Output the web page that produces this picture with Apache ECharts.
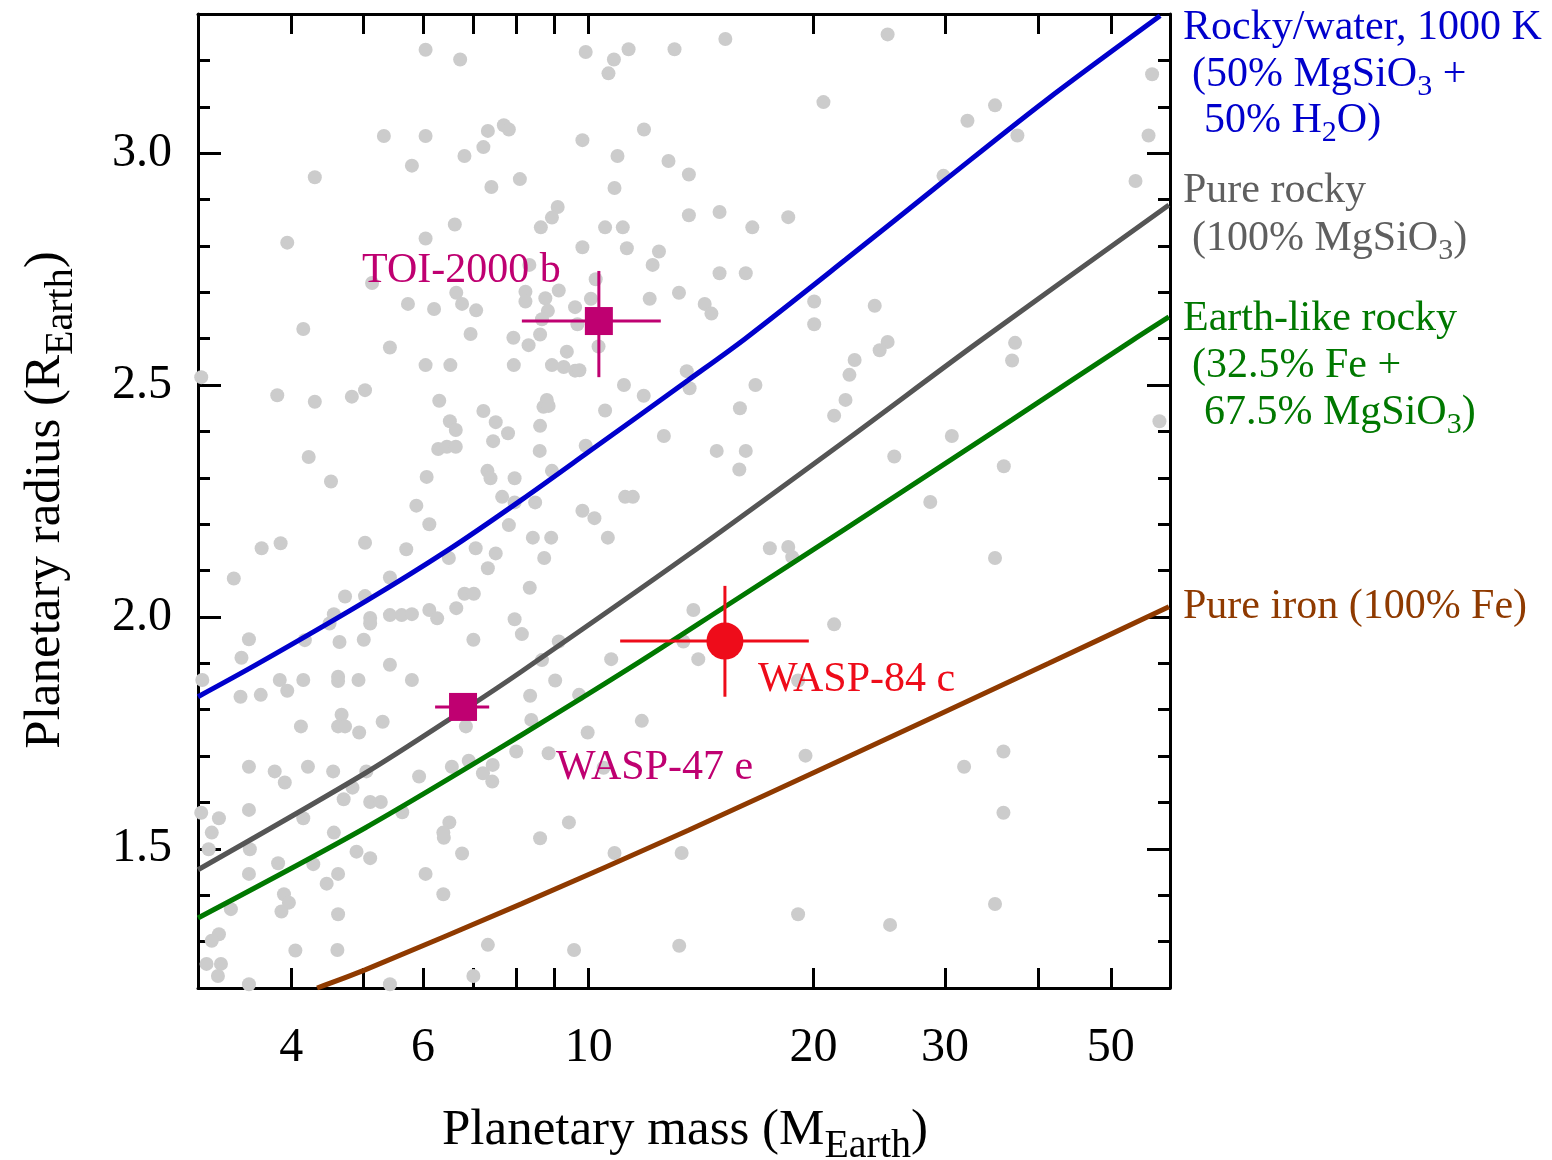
<!DOCTYPE html>
<html>
<head>
<meta charset="utf-8">
<title>Mass-radius diagram</title>
<script src="https://cdn.jsdelivr.net/npm/echarts@6.0.0/dist/echarts.min.js"></script>
<style>
  html, body { margin: 0; padding: 0; background: #fff; }
  #main { width: 1552px; height: 1160px; }
</style>
</head>
<body>
<div id="main"></div>
<script>
// axis ticks
var massTicks = [4, 5, 6, 7, 8, 9, 10, 20, 30, 40, 50];
var massLabels = [4, 6, 10, 20, 30, 50];
var radiusMajor = [1.5, 2.0, 2.5, 3.0];
var radiusMinor = [1.3, 1.4, 1.6, 1.7, 1.8, 1.9, 2.1, 2.2, 2.3, 2.4, 2.6, 2.7, 2.8, 2.9, 3.1, 3.2];

// composition curves (mass in M_earth, radius in R_earth)
var waterMass = [3.0, 3.58, 5.02, 6.48, 8.14, 9.98, 13.6, 16.2, 22.06, 30.0, 40.8, 58.2];
var waterRadius = [1.828, 1.896, 2.033, 2.144, 2.253, 2.355, 2.511, 2.6, 2.77, 2.942, 3.112, 3.296];
var rockMass = [3.0, 5.02, 6.77, 8.14, 13.6, 22.06, 33.2, 59.8];
var rockRadius = [1.455, 1.663, 1.797, 1.883, 2.134, 2.38, 2.592, 2.888];
var earthMass = [3.0, 5.02, 8.14, 11.54, 15.22, 22.06, 36.85, 53.5, 59.8];
var earthRadius = [1.351, 1.545, 1.746, 1.897, 2.022, 2.19, 2.425, 2.597, 2.647];
var ironMass = [4.33, 5.02, 8.14, 13.6, 22.06, 41.3, 59.8];
var ironRadius = [1.2, 1.239, 1.382, 1.54, 1.696, 1.9, 2.022];

// known planets (grey background sample)
var sampleMass = [
  6.05, 6.73, 5.32, 6.05, 7.33, 7.70, 7.82, 7.23, 6.82, 5.80, 4.30, 8.09, 7.41, 6.62, 3.95, 6.05, 5.13, 6.65, 5.73, 6.21,
  6.77, 7.07, 4.15, 6.95, 7.93, 9.91, 10.81, 11.31, 10.63, 13.03, 15.24, 20.62, 11.86, 9.81, 10.93, 12.79, 13.62, 10.83, 9.09, 8.93,
  8.63, 10.52, 11.11, 13.62, 14.97, 16.56, 18.50, 9.81, 11.25, 12.42, 12.18, 8.33, 10.22, 14.97, 16.23, 9.12, 8.75, 8.23, 8.23, 12.07,
  13.21, 14.30, 14.60, 9.59, 10.07, 8.82, 8.66, 9.66, 8.61, 20.04, 20.04, 25.13, 56.78, 34.99, 32.14, 37.49, 56.16, 29.85, 53.95, 24.15,
  25.13, 37.22, 22.70, 22.34, 22.07, 24.52, 36.88, 58.08, 30.63, 25.65, 35.95, 28.66, 34.99, 35.91, 31.81, 35.91, 34.99, 25.32, 3.03, 5.42,
  6.05, 6.53, 7.94, 3.83, 4.30, 4.82, 5.02, 6.31, 7.23, 6.52, 6.64, 7.51, 7.80, 7.45, 6.29, 6.46, 6.64, 4.22, 4.52, 6.07,
  7.32, 7.39, 7.96, 7.66, 7.96, 5.88, 6.12, 7.82, 3.65, 3.87, 5.02, 5.70, 7.06, 7.51, 7.33, 6.50, 3.35, 5.42, 4.72, 5.02,
  6.82, 7.02, 4.56, 4.50, 5.10, 5.10, 5.42, 5.62, 5.80, 6.12, 6.27, 6.65, 7.96, 8.14, 3.51, 4.17, 4.64, 5.00, 7.01, 3.43,
  5.42, 3.04, 3.86, 3.95, 4.15, 4.62, 4.62, 4.92, 5.80, 3.42, 3.64, 4.12, 4.67, 4.62, 4.72, 4.93, 5.30, 6.85, 3.51, 3.80,
  3.92, 4.21, 4.55, 5.04, 4.83, 4.70, 5.10, 5.27, 5.93, 6.56, 6.91, 7.22, 7.44, 7.43, 8.00, 3.03, 3.20, 3.51, 4.15, 5.63,
  3.13, 3.10, 3.52, 4.56, 4.89, 5.10, 6.51, 6.39, 6.40, 6.77, 3.84, 4.28, 3.51, 4.62, 4.46, 6.05, 3.91, 3.97, 3.88, 3.32,
  4.62, 6.39, 3.20, 3.13, 4.05, 4.61, 7.33, 3.08, 3.22, 3.19, 3.51, 5.42, 7.01, 9.02, 8.35, 9.71, 8.38, 9.97, 11.78, 8.84,
  10.47, 19.07, 19.51, 9.41, 8.61, 10.83, 13.32, 19.07, 9.56, 13.22, 8.31, 9.35, 8.93, 9.26, 9.59, 9.72, 10.31, 13.53, 13.65, 11.15,
  11.85, 16.72, 21.31, 8.79, 8.70, 8.84, 10.52, 15.94, 8.61, 12.61, 8.60, 9.91, 14.84, 16.23, 15.91, 8.93, 8.48, 11.19, 11.46, 9.81,
  10.18, 8.42, 8.91, 10.61, 8.72, 17.48, 18.50, 18.73, 8.34, 13.81, 21.31, 9.12, 13.39, 10.72, 14.02, 8.66
];
var sampleRadius = [
  3.223, 3.202, 3.037, 3.037, 3.048, 3.060, 3.051, 3.013, 2.994, 2.973, 2.948, 2.944, 2.927, 2.846, 2.807, 2.816, 2.720, 2.699, 2.675, 2.664,
  2.675, 2.661, 2.621, 2.610, 2.602, 3.218, 3.202, 3.224, 3.172, 3.224, 3.246, 3.110, 3.051, 3.028, 2.994, 2.983, 2.954, 2.925, 2.884, 2.861,
  2.840, 2.840, 2.840, 2.866, 2.873, 2.840, 2.862, 2.797, 2.795, 2.788, 2.759, 2.759, 2.728, 2.741, 2.741, 2.704, 2.687, 2.701, 2.680, 2.686,
  2.699, 2.675, 2.654, 2.668, 2.686, 2.660, 2.642, 2.631, 2.609, 2.680, 2.631, 3.256, 3.170, 3.103, 3.070, 3.038, 3.038, 2.951, 2.940, 2.671,
  2.593, 2.591, 2.554, 2.522, 2.468, 2.575, 2.553, 2.422, 2.390, 2.346, 2.325, 2.248, 2.127, 1.710, 1.677, 1.578, 1.381, 1.336, 2.517, 2.581,
  2.543, 2.543, 2.543, 2.478, 2.464, 2.475, 2.489, 2.466, 2.444, 2.422, 2.403, 2.420, 2.396, 2.379, 2.362, 2.367, 2.367, 2.345, 2.292, 2.302,
  2.315, 2.299, 2.299, 2.259, 2.247, 2.240, 2.200, 2.198, 2.148, 2.159, 2.160, 2.146, 2.148, 2.137, 2.105, 2.127, 2.083, 2.085, 2.044, 2.045,
  2.050, 2.050, 2.006, 1.986, 1.998, 1.986, 2.004, 2.004, 2.006, 2.015, 1.997, 2.019, 1.995, 1.963, 1.952, 1.950, 1.946, 1.951, 1.951, 1.912,
  1.897, 1.864, 1.864, 1.841, 1.864, 1.871, 1.862, 1.864, 1.864, 1.828, 1.832, 1.764, 1.789, 1.764, 1.764, 1.751, 1.774, 1.764, 1.677, 1.667,
  1.643, 1.677, 1.667, 1.667, 1.632, 1.607, 1.601, 1.601, 1.656, 1.677, 1.690, 1.663, 1.681, 1.645, 1.710, 1.578, 1.566, 1.584, 1.566, 1.579,
  1.535, 1.499, 1.499, 1.535, 1.494, 1.480, 1.557, 1.535, 1.524, 1.490, 1.469, 1.467, 1.446, 1.446, 1.425, 1.446, 1.402, 1.384, 1.365, 1.370,
  1.359, 1.402, 1.316, 1.302, 1.281, 1.282, 1.293, 1.252, 1.252, 1.226, 1.208, 1.208, 1.226, 1.863, 1.830, 1.832, 1.778, 1.751, 1.776, 1.706,
  1.675, 1.863, 1.701, 1.557, 1.523, 1.491, 1.491, 1.359, 1.282, 1.291, 2.586, 2.572, 2.543, 2.539, 2.531, 2.532, 2.583, 2.530, 2.493, 2.500,
  2.477, 2.500, 2.434, 2.468, 2.453, 2.455, 2.445, 2.450, 2.412, 2.390, 2.358, 2.369, 2.358, 2.358, 2.318, 2.315, 2.247, 2.259, 2.259, 2.229,
  2.213, 2.171, 2.171, 2.171, 2.127, 2.148, 2.151, 2.129, 2.063, 2.015, 1.984, 1.947, 1.947, 1.909, 1.909, 1.907
];

// highlighted planets
var planetNames = ["TOI-2000 b", "WASP-47 e", "WASP-84 c"];
var planetMass = [10.32, 6.79, 15.22];
var planetMassLo = [8.14, 6.23, 11.02];
var planetMassHi = [12.49, 7.36, 19.71];
var planetRadius = [2.638, 1.806, 1.948];
var planetRadiusLo = [2.517, 1.79, 1.828];
var planetRadiusHi = [2.746, 1.82, 2.067];

var SERIF = '"Liberation Serif", "Times New Roman", serif';
var planetColors = ["#bf0071", "#bf0071", "#ee0c1a"];
var planetSymbols = ["rect", "rect", "circle"];
var planetSizes = [28, 28, 37];

function pairs(xs, ys) {
  var out = [];
  for (var i = 0; i < xs.length; i++) {
    out.push([xs[i], ys[i]]);
  }
  return out;
}

function curve(name, xs, ys, color) {
  return {
    name: name,
    type: "line",
    data: pairs(xs, ys),
    smooth: 0.3,
    symbol: "none",
    lineStyle: { color: color, width: 5 },
    z: 3,
    silent: true
  };
}

// rich text with subscripts for the side labels
function richFor(color, size, subSize, pad) {
  return {
    b: { fontFamily: SERIF, fontSize: size, fill: color, color: color, lineHeight: size + 4 },
    s: { fontFamily: SERIF, fontSize: subSize, fill: color, color: color, lineHeight: subSize, padding: [pad, 0, 0, 0] }
  };
}

function sideText(x, y, text, color) {
  return {
    type: "text",
    x: x,
    y: y,
    z: 20,
    silent: true,
    style: {
      text: text,
      rich: richFor(color, 42, 30, 24),
      fill: color,
      font: "42px " + SERIF,
      align: "left",
      textAlign: "left",
      verticalAlign: "middle",
      textVerticalAlign: "middle"
    }
  };
}

function plainText(x, y, text, color) {
  return {
    type: "text",
    x: x,
    y: y,
    z: 20,
    silent: true,
    style: {
      text: text,
      fill: color,
      font: "42px " + SERIF,
      align: "left",
      textAlign: "left",
      verticalAlign: "middle",
      textVerticalAlign: "middle"
    }
  };
}

function xAxisDef(pos, showLabel) {
  return {
    type: "log",
    logBase: 10,
    min: 3,
    max: 60,
    position: pos,
    axisLine: { show: true, onZero: false, lineStyle: { color: "#000", width: 3 } },
    axisTick: { show: true, inside: true, length: 20, customValues: massTicks, lineStyle: { color: "#000", width: 3 } },
    minorTick: { show: false },
    axisLabel: {
      show: showLabel,
      customValues: massLabels,
      formatter: function (v) { return String(Math.round(v)); },
      fontFamily: SERIF,
      fontSize: 48,
      color: "#000",
      margin: 36
    },
    splitLine: { show: false }
  };
}

function yAxisDef(pos, ticks, len, showLine, showLabel) {
  return {
    type: "value",
    min: 1.2,
    max: 3.3,
    position: pos,
    axisLine: { show: showLine, onZero: false, lineStyle: { color: "#000", width: 3 } },
    axisTick: { show: true, inside: true, length: len, customValues: ticks, lineStyle: { color: "#000", width: 3 } },
    axisLabel: {
      show: showLabel,
      customValues: ticks,
      formatter: function (v) { return v.toFixed(1); },
      fontFamily: SERIF,
      fontSize: 48,
      color: "#000",
      margin: 26
    },
    splitLine: { show: false }
  };
}

var chart = echarts.init(document.getElementById("main"), null, { renderer: "canvas" });

var planetData = [];
var barData = [];
for (var i = 0; i < planetNames.length; i++) {
  planetData.push({
    name: planetNames[i],
    value: [planetMass[i], planetRadius[i]],
    symbol: planetSymbols[i],
    symbolSize: planetSizes[i],
    itemStyle: { color: planetColors[i], opacity: 1 }
  });
  barData.push([planetMass[i], planetRadius[i], planetMassLo[i], planetMassHi[i], planetRadiusLo[i], planetRadiusHi[i], i]);
}

var option = {
  animation: false,
  backgroundColor: "#fff",
  grid: { left: 198, right: 382, top: 14, bottom: 172, outerBoundsMode: "none", containLabel: false },
  xAxis: [xAxisDef("bottom", true), xAxisDef("top", false)],
  yAxis: [
    yAxisDef("left", radiusMajor, 23, true, true),
    yAxisDef("left", radiusMinor, 12, false, false),
    yAxisDef("right", radiusMajor, 23, true, false),
    yAxisDef("right", radiusMinor, 12, false, false)
  ],
  series: [
    {
      name: "sample",
      type: "scatter",
      data: pairs(sampleMass, sampleRadius),
      symbolSize: 14,
      itemStyle: { color: "#cccccc", opacity: 1 },
      z: 1,
      silent: true
    },
    curve("Rocky/water", waterMass, waterRadius, "#0000cc"),
    curve("Pure rocky", rockMass, rockRadius, "#555555"),
    curve("Earth-like", earthMass, earthRadius, "#007800"),
    curve("Pure iron", ironMass, ironRadius, "#8f3a00"),
    {
      name: "errors",
      type: "custom",
      data: barData,
      encode: { x: 0, y: 1 },
      z: 4,
      silent: true,
      renderItem: function (params, api) {
        var c = planetColors[api.value(6)];
        var l = api.coord([api.value(2), api.value(1)]);
        var r = api.coord([api.value(3), api.value(1)]);
        var b = api.coord([api.value(0), api.value(4)]);
        var t = api.coord([api.value(0), api.value(5)]);
        return {
          type: "group",
          children: [
            { type: "line", shape: { x1: l[0], y1: l[1], x2: r[0], y2: r[1] }, style: { stroke: c, lineWidth: 3 } },
            { type: "line", shape: { x1: b[0], y1: b[1], x2: t[0], y2: t[1] }, style: { stroke: c, lineWidth: 3 } }
          ]
        };
      }
    },
    {
      name: "planets",
      type: "scatter",
      data: planetData,
      z: 5,
      silent: true
    }
  ],
  graphic: [
    sideText(1183, 28, "{b|Rocky/water, 1000 K}", "#0000cc"),
    sideText(1192, 75, "{b|(50% MgSiO}{s|3}{b| +}", "#0000cc"),
    sideText(1204, 121, "{b|50% H}{s|2}{b|O)}", "#0000cc"),
    sideText(1183, 191, "{b|Pure rocky}", "#5f5f5f"),
    sideText(1192, 239, "{b|(100% MgSiO}{s|3}{b|)}", "#5f5f5f"),
    sideText(1183, 319, "{b|Earth-like rocky}", "#007800"),
    sideText(1192, 366, "{b|(32.5% Fe +}", "#007800"),
    sideText(1204, 413, "{b|67.5% MgSiO}{s|3}{b|)}", "#007800"),
    sideText(1183, 607, "{b|Pure iron (100% Fe)}", "#8f3a00"),
    plainText(362, 271, planetNames[0], planetColors[0]),
    plainText(556, 768, planetNames[1], planetColors[1]),
    plainText(758, 680, planetNames[2], planetColors[2]),
    {
      type: "text",
      x: 685,
      y: 1131,
      z: 20,
      silent: true,
      style: {
        text: "{m|Planetary mass (M}{s|Earth}{m|)}",
        rich: {
          m: { fontFamily: SERIF, fontSize: 51, fill: "#000", color: "#000", lineHeight: 55 },
          s: { fontFamily: SERIF, fontSize: 40, fill: "#000", color: "#000", lineHeight: 40, padding: [30, 0, 0, 0] }
        },
        align: "center",
        textAlign: "center",
        verticalAlign: "middle",
        textVerticalAlign: "middle"
      }
    },
    {
      type: "text",
      x: 46,
      y: 500,
      rotation: Math.PI / 2,
      z: 20,
      silent: true,
      style: {
        text: "{m|Planetary radius (R}{s|Earth}{m|)}",
        rich: {
          m: { fontFamily: SERIF, fontSize: 51, fill: "#000", color: "#000", lineHeight: 55 },
          s: { fontFamily: SERIF, fontSize: 40, fill: "#000", color: "#000", lineHeight: 40, padding: [30, 0, 0, 0] }
        },
        align: "center",
        textAlign: "center",
        verticalAlign: "middle",
        textVerticalAlign: "middle"
      }
    }
  ]
};
chart.setOption(option);
</script>
</body>
</html>
